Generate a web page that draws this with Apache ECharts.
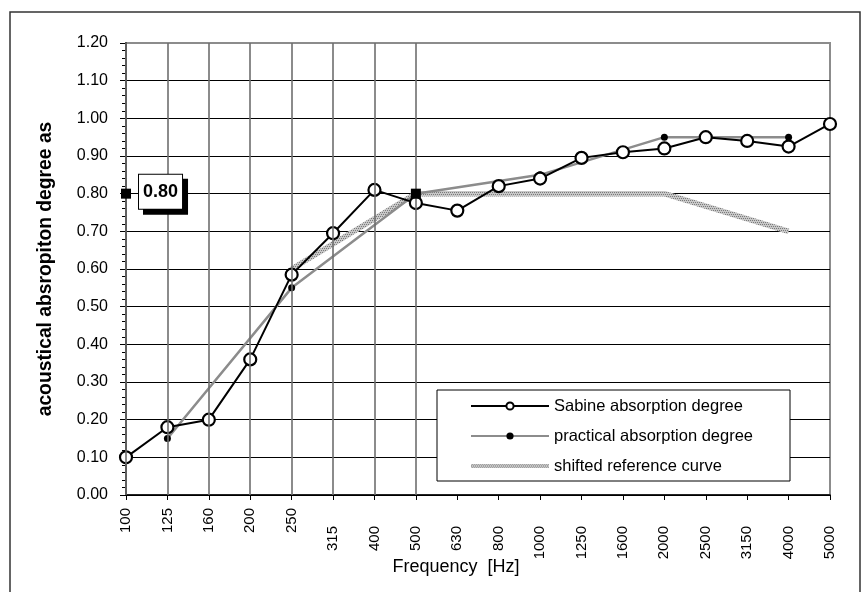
<!DOCTYPE html>
<html>
<head>
<meta charset="utf-8">
<title>acoustical absorption degree</title>
<script src="https://cdn.jsdelivr.net/npm/echarts@6/dist/echarts.min.js"></script>
<style>
	html, body { margin: 0; padding: 0; background: #fff; }
	#chart { width: 866px; height: 592px; }
</style>
</head>
<body>
<div id="chart"></div>
<script>
//third octave band centre frequencies [Hz]
var freqs = ['100', '125', '160', '200', '250', '315', '400', '500', '630', '800',
	'1000', '1250', '1600', '2000', '2500', '3150', '4000', '5000'];
//Sabine absorption degree, every band
var sabine = [0.10, 0.18, 0.20, 0.36, 0.585, 0.695, 0.81, 0.775, 0.755, 0.82,
	0.84, 0.895, 0.91, 0.92, 0.95, 0.94, 0.925, 0.985];
//practical absorption degree, octave bands only
var practical = [null, 0.15, null, null, 0.55, null, null, 0.80, null, null,
	0.85, null, null, 0.95, null, null, 0.95, null];
//shifted reference curve, octave bands only
var shiftedRef = [null, null, null, null, 0.60, null, null, 0.80, null, null,
	0.80, null, null, 0.80, null, null, 0.70, null];
//weighted value marker
var markFreqs = ['100', '500'];
var markValue = 0.80;
//bands that have a vertical grid line
var gridFreqs = freqs.slice(0, 8);
var yTicks = { min: 0, max: 1.2, interval: 0.1 };

//hatched grey pattern for the reference curve
function hatch() {
	var c = document.createElement('canvas');
	c.width = 4; c.height = 4;
	var ctx = c.getContext('2d');
	ctx.fillStyle = '#c8c8c8';
	ctx.fillRect(0, 0, 4, 4);
	ctx.fillStyle = '#7a7a7a';
	ctx.fillRect(0, 0, 1, 1);
	ctx.fillRect(2, 0, 1, 1);
	ctx.fillRect(1, 2, 1, 1);
	ctx.fillRect(3, 2, 1, 1);
	return { image: c, repeat: 'repeat' };
}
var hatchColor = hatch();

var myChart = echarts.init(document.getElementById('chart'));
var option = {
	backgroundColor: '#fff',
	animation: false,
	textStyle: { fontFamily: '"Liberation Sans", Arial, sans-serif' },
	grid: {
		left: 126, right: 36, top: 43, bottom: 97,
		show: true, backgroundColor: '#fff', borderColor: '#8c8c8c', borderWidth: 2
	},
	legend: {
		orient: 'vertical',
		left: 470, top: 396, padding: 0,
		itemWidth: 78, itemHeight: 9, itemGap: 10,
		textStyle: { fontFamily: '"Liberation Sans", Arial, sans-serif', fontSize: 16.5, lineHeight: 20, color: '#000' },
		data: [
			'Sabine absorption degree',
			'practical absorption degree',
			{
				name: 'shifted reference curve',
				icon: 'path://M0,0M0,2.5H78V6.5H0ZM78,9',
				itemStyle: { color: hatchColor, borderWidth: 0 }
			}
		]
	},
	xAxis: {
		type: 'category',
		data: freqs,
		boundaryGap: false,
		axisLine: { lineStyle: { color: '#000', width: 1.5 } },
		axisTick: { show: true, length: 5, lineStyle: { color: '#000' } },
		splitLine: { show: false },
		axisLabel: {
			rotate: 90, margin: 13, interval: 0, color: '#000', fontSize: 15,
			formatter: function(value, index) {
				return index < 5 ? value : '{lo|' + value + '}';
			},
			rich: { lo: { fontSize: 15, padding: [0, 18, 0, 0] } }
		}
	},
	yAxis: {
		type: 'value',
		min: yTicks.min, max: yTicks.max, interval: yTicks.interval,
		name: 'acoustical absropiton degree as',
		nameLocation: 'middle',
		nameGap: 71,
		nameTextStyle: { fontWeight: 'bold', fontSize: 19.3, color: '#000' },
		axisLine: { show: true, lineStyle: { color: '#000', width: 1.5 } },
		axisTick: { show: true, length: 6, lineStyle: { color: '#000' } },
		minorTick: { show: true, splitNumber: 5, length: 4, lineStyle: { color: '#000' } },
		splitLine: { show: true, showMaxLine: false, lineStyle: { color: '#000', width: 1.2 } },
		axisLabel: {
			margin: 18, color: '#000', fontSize: 16,
			formatter: function(v) { return v.toFixed(2); }
		}
	},
	graphic: [
		{
			type: 'rect', silent: true, z: -1,
			shape: { x: 10, y: 12, width: 850, height: 600 },
			style: { fill: null, stroke: '#333', lineWidth: 1.5 }
		},
		{
			type: 'rect', silent: true, z: 1,
			shape: { x: 437, y: 390, width: 353, height: 91 },
			style: { fill: '#fff', stroke: '#000', lineWidth: 1 }
		},
		{
			type: 'text', silent: true,
			style: {
				x: 456, y: 567, text: 'Frequency  [Hz]', align: 'center', verticalAlign: 'middle',
				font: '18px "Liberation Sans", Arial, sans-serif', fill: '#000'
			}
		}
	],
	series: [
		{
			//vertical grid lines for the low bands
			name: 'grid', type: 'line', data: [], z: 1, silent: true,
			markLine: {
				silent: true, symbol: 'none', animation: false,
				label: { show: false },
				lineStyle: { color: '#6e6e6e', width: 1.6, type: 'solid' },
				data: gridFreqs.map(function(f) { return { xAxis: f }; })
			}
		},
		{
			name: 'shifted reference curve', type: 'line', data: shiftedRef,
			connectNulls: true, showSymbol: false, symbol: 'none', z: 2,
			lineStyle: { color: hatchColor, width: 5.5 },
			itemStyle: { color: '#b4b4b4' }
		},
		{
			name: 'practical absorption degree', type: 'line', data: practical,
			connectNulls: true, symbol: 'circle', symbolSize: 7, z: 3,
			lineStyle: { color: '#8c8c8c', width: 2.5 },
			itemStyle: { color: '#000' }
		},
		{
			name: 'Sabine absorption degree', type: 'line', data: sabine,
			symbol: 'circle', symbolSize: 12, z: 4,
			lineStyle: { color: '#000', width: 2 },
			itemStyle: { color: '#fff', borderColor: '#000', borderWidth: 2.2 }
		},
		{
			name: 'marker', type: 'scatter', z: 5,
			symbol: 'rect', symbolSize: 10,
			itemStyle: { color: '#000', opacity: 1 },
			data: markFreqs.map(function(f, i) {
				var d = { value: [f, markValue] };
				if (i === 0) {
					d.label = {
						show: true, position: 'right', distance: 8,
						formatter: markValue.toFixed(2),
						fontWeight: 'bold', fontSize: 18, color: '#000',
						backgroundColor: '#fff', borderColor: '#000', borderWidth: 1,
						padding: [8, 4, 8, 4],
						shadowColor: '#000', shadowBlur: 0, shadowOffsetX: 5, shadowOffsetY: 5,
						textShadowColor: 'transparent', textShadowBlur: 0,
						offset: [0, -2]
					};
				}
				return d;
			})
		}
	]
};
myChart.setOption(option);
</script>
</body>
</html>
